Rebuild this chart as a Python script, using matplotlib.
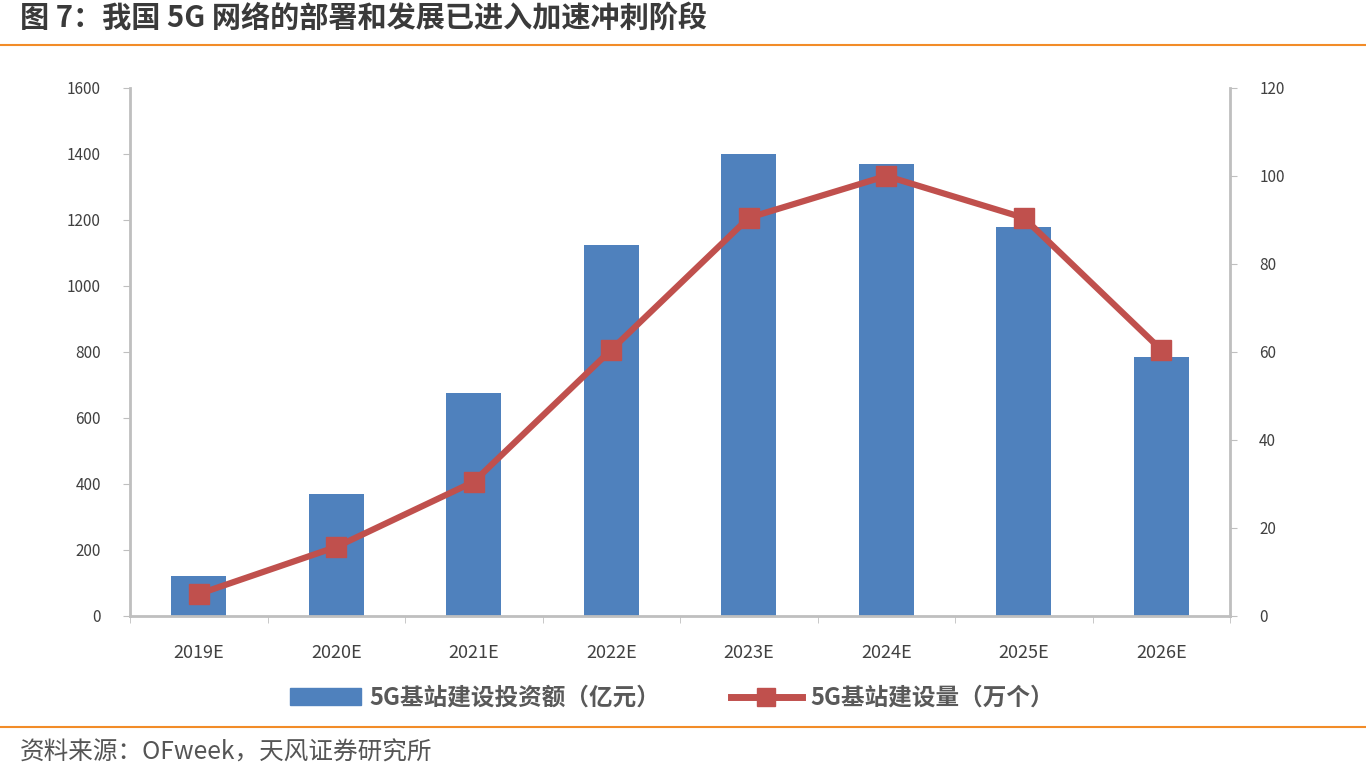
import numpy as np
import matplotlib
matplotlib.use("Agg")
import matplotlib.pyplot as plt
from matplotlib.lines import Line2D
from matplotlib.patches import Patch

plt.rcParams['font.family'] = ['Noto Sans CJK SC', 'DejaVu Sans']

# data
years = ["2019E", "2020E", "2021E", "2022E", "2023E", "2024E", "2025E", "2026E"]
invest = [120, 370, 675, 1125, 1400, 1370, 1180, 785]   # 亿元
stations = [5, 15.7, 30.5, 60.5, 90.5, 100, 90.5, 60.5]  # 万个

bar_color = "#4F81BD"
line_color = "#C0504D"
axis_gray = "#BFBFBF"
text_gray = "#404040"
orange = "#F28C28"

fig = plt.figure(figsize=(13.66, 7.73), dpi=100)

# title + rules
fig.text(20 / 1366, 1 - 18 / 773, "图 7：我国 5G 网络的部署和发展已进入加速冲刺阶段",
         fontsize=21, fontweight="bold", color="#3a3a3a", va="center", ha="left")
fig.add_artist(Line2D([0, 1], [1 - 45 / 773] * 2, color=orange, lw=1.5))
fig.add_artist(Line2D([0, 1], [1 - 727 / 773] * 2, color=orange, lw=1.5))
fig.text(20 / 1366, 1 - 753 / 773, "资料来源：OFweek，天风证券研究所",
         fontsize=17.7, color="#555555", va="center", ha="left")

ax = fig.add_axes([130 / 1366, 1 - 616 / 773, 1100 / 1366, 528 / 773])
x = np.arange(len(years))
ax.bar(x, invest, width=0.4, color=bar_color, zorder=2)
ax.set_xlim(-0.5, len(years) - 0.5)
ax.set_ylim(0, 1600)
ax.set_yticks(np.arange(0, 1601, 200))
ax.set_xticks(x)
ax.set_xticklabels(years)
ax.set_xticks(np.arange(-0.5, len(years), 1), minor=True)
ax.tick_params(axis="x", which="major", length=0, pad=20, labelsize=13, labelcolor=text_gray)
ax.tick_params(axis="x", which="minor", length=5, color=axis_gray, direction="out")
ax.tick_params(axis="y", length=5, color=axis_gray, labelsize=11, labelcolor=text_gray, pad=16)
for s in ["top", "right"]:
    ax.spines[s].set_visible(False)
for s in ["left", "bottom"]:
    ax.spines[s].set_color(axis_gray)
    ax.spines[s].set_linewidth(2)

ax2 = ax.twinx()
ax2.plot(x, stations, color=line_color, lw=4.5, marker="s", markersize=15,
         markerfacecolor=line_color, markeredgecolor=line_color, zorder=3)
ax2.set_ylim(0, 120)
ax2.set_yticks(np.arange(0, 121, 20))
ax2.tick_params(axis="y", length=5, color=axis_gray, labelsize=11, labelcolor=text_gray, pad=16)
for s in ["top", "left", "bottom"]:
    ax2.spines[s].set_visible(False)
ax2.spines["right"].set_color(axis_gray)
ax2.spines["right"].set_linewidth(2)

handles = [Patch(color=bar_color),
           Line2D([0], [0], color=line_color, lw=5, marker="s", markersize=13)]
labels = ["5G基站建设投资额（亿元）", "5G基站建设量（万个）"]
fig.legend(handles, labels, loc="center", bbox_to_anchor=(672 / 1366, 1 - 698 / 773),
           ncol=2, frameon=False, prop={"size": 17, "weight": "bold"},
           handlelength=3.0, handleheight=0.7, columnspacing=3.0,
           labelcolor="#595959", handletextpad=0.35)

fig.savefig("out.png", dpi=100)
